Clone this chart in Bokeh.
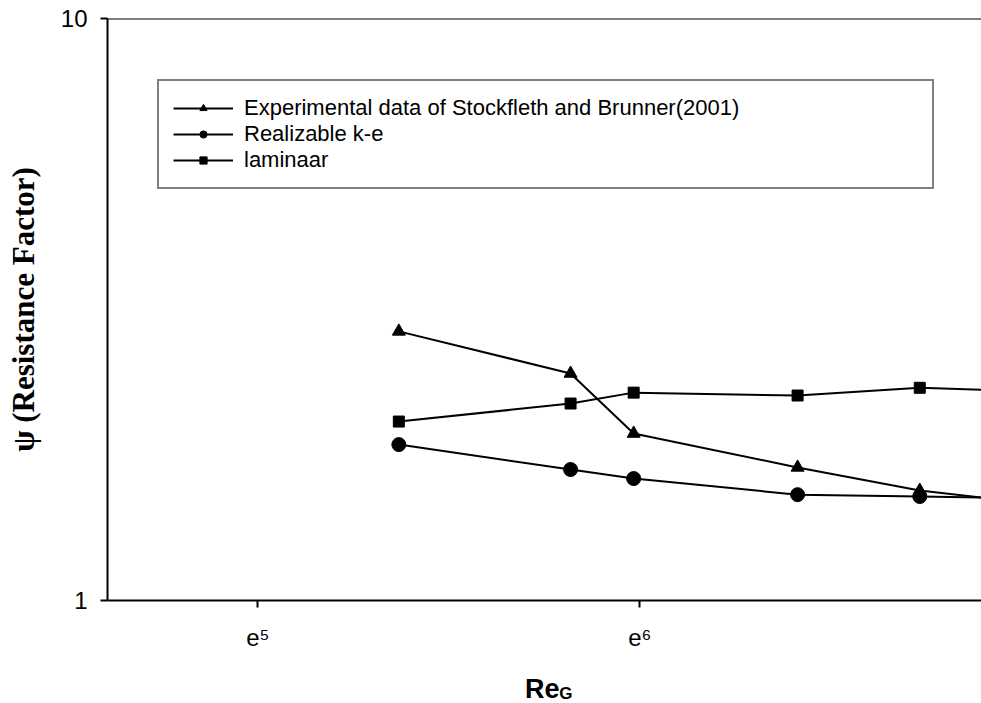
from bokeh.plotting import figure
from bokeh.models import FixedTicker, Legend, LegendItem, Span
from bokeh.layouts import column
from bokeh.core.properties import value
from bokeh.embed import file_html
from bokeh.resources import INLINE

# ---- data ----
re_g = [2.34e5, 6.59e5, 9.64e5, 2.59e6, 5.41e6, 1.0e7]
experimental = [2.90, 2.455, 1.936, 1.693, 1.545, 1.476]
realizable = [1.853, 1.679, 1.62, 1.52, 1.509, 1.50]
laminaar = [2.03, 2.18, 2.276, 2.25, 2.32, 2.29]

x_ticks = [1e5, 1e6, 1e7]
x_tick_labels = ["e\u2075", "e\u2076", "e\u2077"]
y_ticks = [1, 10]
y_tick_labels = ["1", "10"]

series_names = ["Experimental data of Stockfleth and Brunner(2001)",
                "Realizable k-e", "laminaar"]
x_title_main = ["Re"]
x_title_sub = ["G"]

FONT = "Liberation Sans"

p = figure(width=981, height=660, x_axis_type="log", y_axis_type="log",
           x_range=(4.04e4, 7.85e6), y_range=(1, 10),
           output_backend="svg", toolbar_location=None,
           min_border_left=107, min_border_right=0,
           min_border_top=18, min_border_bottom=60)
p.outline_line_color = None
p.xgrid.visible = False
p.ygrid.visible = False
p.background_fill_color = "white"
p.border_fill_color = "white"

# axes
for ax in (p.xaxis[0], p.yaxis[0]):
    ax.axis_line_width = 2
    ax.axis_line_color = "black"
    ax.major_tick_line_width = 2
    ax.major_tick_line_color = "black"
    ax.major_tick_out = 7
    ax.major_tick_in = 0
    ax.minor_tick_line_color = None
    ax.major_label_text_font = FONT
    ax.major_label_text_font_size = "24px"
    ax.major_label_text_color = "black"

p.xaxis.ticker = FixedTicker(ticks=x_ticks)
p.xaxis.major_label_overrides = {t: l for t, l in zip(x_ticks, x_tick_labels)}
p.xaxis.major_label_standoff = 16

p.yaxis.ticker = FixedTicker(ticks=y_ticks)
p.yaxis.major_label_overrides = {t: l for t, l in zip(y_ticks, y_tick_labels)}
p.yaxis.major_label_standoff = 13
p.yaxis.axis_label = "\u03c8 (Resistance Factor)"
p.yaxis.axis_label_text_font = "Liberation Serif"
p.yaxis.axis_label_text_font_style = "bold"
p.yaxis.axis_label_text_font_size = "31px"
p.yaxis.axis_label_text_color = "black"
p.yaxis.axis_label_standoff = 17

# top border line
p.add_layout(Span(location=10, dimension="width", line_color="black", line_width=2))

# series
l1 = p.line(re_g, experimental, line_color="black", line_width=2)
s1 = p.scatter(re_g, experimental, marker="triangle", size=13, fill_color="black", line_color="black")
l2 = p.line(re_g, realizable, line_color="black", line_width=2)
s2 = p.scatter(re_g, realizable, marker="circle", size=14, fill_color="black", line_color="black")
l3 = p.line(re_g, laminaar, line_color="black", line_width=2)
s3 = p.scatter(re_g, laminaar, marker="square", size=11, fill_color="black", line_color="black")

legend = Legend(items=[
    LegendItem(label=series_names[0], renderers=[l1, s1]),
    LegendItem(label=series_names[1], renderers=[l2, s2]),
    LegendItem(label=series_names[2], renderers=[l3, s3]),
], location=(50, 411))
legend.label_text_font = FONT
legend.label_text_font_size = "22px"
legend.label_text_color = "black"
legend.glyph_width = 60
legend.glyph_height = 18
legend.label_height = 18
legend.label_width = 674
legend.label_standoff = 11
legend.spacing = 0
legend.padding = 14
legend.margin = 0
legend.border_line_color = "black"
legend.border_line_width = 2
legend.background_fill_color = "white"
legend.background_fill_alpha = 1
p.add_layout(legend)

# x axis title strip (Re with subscript G)
t = figure(width=981, height=43, x_range=(0, 981), y_range=(0, 43),
           x_axis_location=None, y_axis_location=None,
           output_backend="svg", toolbar_location=None,
           min_border_left=0, min_border_right=0, min_border_top=0, min_border_bottom=0)
t.grid.visible = False
t.outline_line_color = None
t.background_fill_color = "white"
t.border_fill_color = "white"
t.text(x=[488], y=[15], text=x_title_main, text_align="center", text_baseline="middle",
       text_font=value(FONT), text_font_style="bold", text_font_size="27px", text_color="black")
t.text(x=[507], y=[10], text=x_title_sub, text_align="left", text_baseline="middle",
       text_font=value(FONT), text_font_style="bold", text_font_size="17px", text_color="black")

layout = column(p, t, spacing=0)
open("out.html", "w").write(file_html(layout, INLINE))
